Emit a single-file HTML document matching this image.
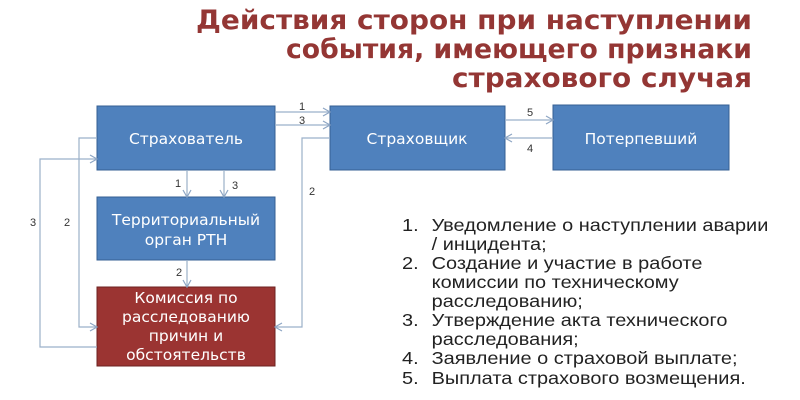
<!DOCTYPE html>
<html><head><meta charset="utf-8"><style>
html,body{margin:0;padding:0;background:#fff;width:800px;height:400px;overflow:hidden}
</style></head><body>
<svg width="800" height="400" xmlns="http://www.w3.org/2000/svg">
<defs>
<marker id="a" markerWidth="10" markerHeight="10" refX="8" refY="5" orient="auto" markerUnits="userSpaceOnUse">
<path d="M1,1 L8,5 L1,9" fill="none" stroke="#8ea6c4" stroke-width="1.2"/>
</marker>
</defs>
<g font-family="'DejaVu Sans',sans-serif" font-weight="bold" font-size="27" fill="#943634" text-anchor="end">
<text x="752" y="29" textLength="556" lengthAdjust="spacingAndGlyphs">Действия сторон при наступлении</text>
<text x="752" y="58" textLength="466" lengthAdjust="spacingAndGlyphs">события, имеющего признаки</text>
<text x="752" y="87" textLength="300" lengthAdjust="spacingAndGlyphs">страхового случая</text>
</g>
<g stroke="#355f93" stroke-width="1">
<rect x="97" y="106" width="178" height="64" fill="#4f81bd"/>
<rect x="97" y="197" width="178" height="63" fill="#4f81bd"/>
<rect x="97" y="287" width="178" height="79" fill="#9b3432" stroke="#6e2220"/>
<rect x="330" y="106" width="175" height="64" fill="#4f81bd"/>
<rect x="553" y="105" width="176" height="65" fill="#4f81bd"/>
</g>
<g font-family="'DejaVu Sans',sans-serif" font-size="15.5" fill="#fff" text-anchor="middle">
<text x="186" y="144">Страхователь</text>
<text x="186" y="225">Территориальный</text>
<text x="186" y="245">орган РТН</text>
<text x="186" y="303">Комиссия по</text>
<text x="186" y="322">расследованию</text>
<text x="186" y="341">причин и</text>
<text x="186" y="360">обстоятельств</text>
<text x="417" y="144">Страховщик</text>
<text x="641" y="144">Потерпевший</text>
</g>
<g fill="none" stroke="#9bb0c9" stroke-width="1.2">
<path d="M275,112 H330" marker-end="url(#a)"/>
<path d="M275,125 H330" marker-end="url(#a)"/>
<path d="M330,138 H302 V327 H275" marker-end="url(#a)"/>
<path d="M187,170 V197" marker-end="url(#a)"/>
<path d="M224,170 V197" marker-end="url(#a)"/>
<path d="M187,260 V287" marker-end="url(#a)"/>
<path d="M97,138 H79 V327 H97" marker-end="url(#a)"/>
<path d="M97,347 H40 V159 H97" marker-end="url(#a)"/>
<path d="M505,120 H553" marker-end="url(#a)"/>
<path d="M553,138 H505" marker-end="url(#a)"/>
</g>
<g font-family="'Liberation Sans',sans-serif" font-size="11" fill="#333" text-anchor="middle">
<text x="302" y="110">1</text>
<text x="302" y="124">3</text>
<text x="312" y="195">2</text>
<text x="178" y="187">1</text>
<text x="235" y="189">3</text>
<text x="179" y="276">2</text>
<text x="67" y="226">2</text>
<text x="33" y="226">3</text>
<text x="530" y="116">5</text>
<text x="530" y="152">4</text>
</g>
<g font-family="'Liberation Sans',sans-serif" font-size="17.5" fill="#222" transform="translate(402,0) scale(1.14,1)">
<text x="0" y="231">1.</text><text x="26" y="231">Уведомление о наступлении аварии</text>
<text x="26" y="250">/ инцидента;</text>
<text x="0" y="269">2.</text><text x="26" y="269">Создание и участие в работе</text>
<text x="26" y="288">комиссии по техническому</text>
<text x="26" y="307">расследованию;</text>
<text x="0" y="326">3.</text><text x="26" y="326">Утверждение акта технического</text>
<text x="26" y="345">расследования;</text>
<text x="0" y="364">4.</text><text x="26" y="364">Заявление о страховой выплате;</text>
<text x="0" y="384">5.</text><text x="26" y="384">Выплата страхового возмещения.</text>
</g>
</svg>
</body></html>
